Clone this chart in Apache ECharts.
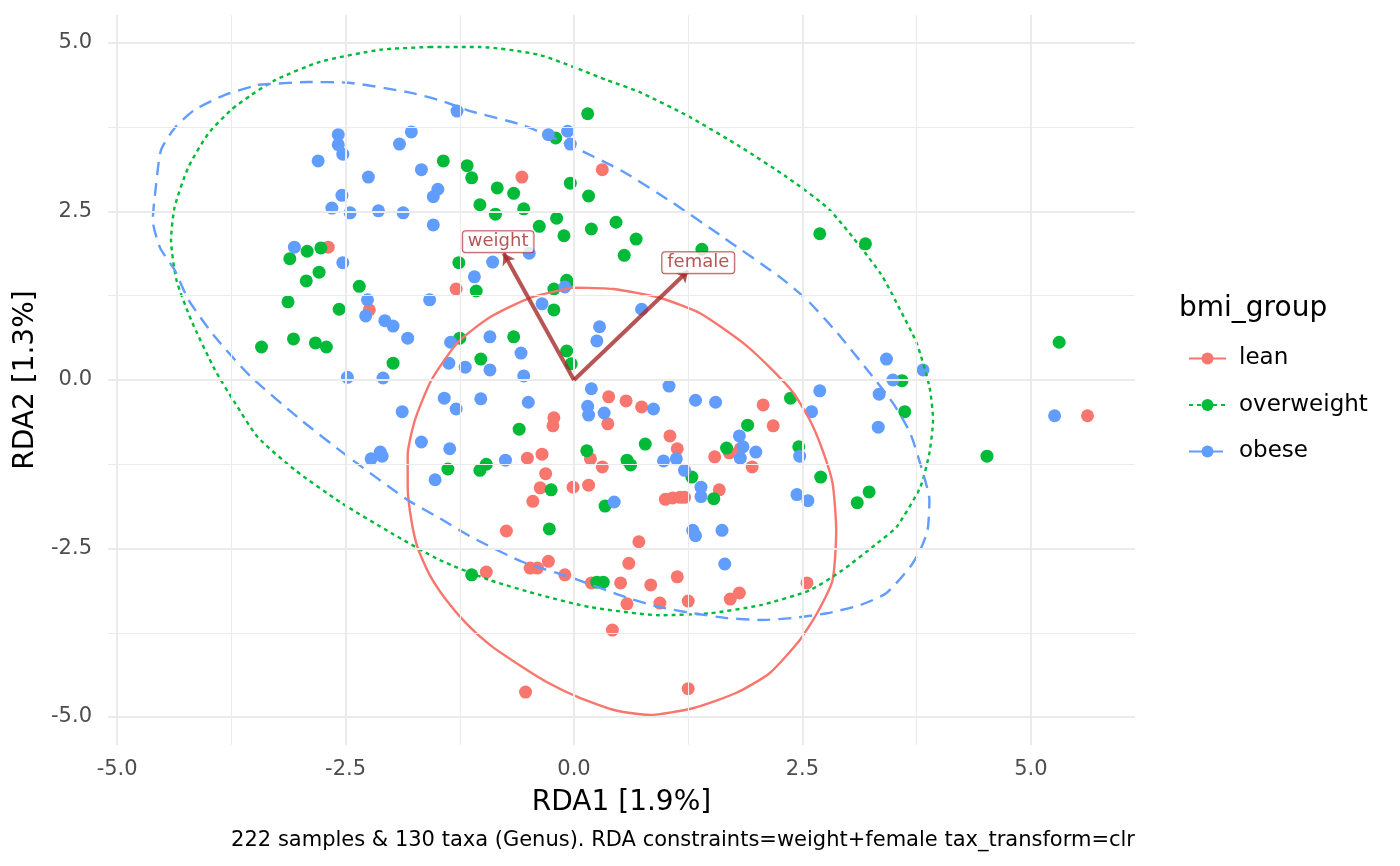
<!DOCTYPE html>
<html>
<head>
<meta charset="utf-8">
<title>RDA bmi_group</title>
<script src="https://cdn.jsdelivr.net/npm/echarts@6.0.0/dist/echarts.min.js"></script>
<style>
    html, body { margin:0; padding:0; background:#fff; }
    #chart { width:1400px; height:866px; }
</style>
</head>
<body>
<div id="chart"></div>
<script>

/* 刻度 */
const tickValues = [-5, -2.5, 0, 2.5, 5];

const minorValues = [-3.75, -1.25, 1.25, 3.75];

/* lean */
const leanX = [
    -0.57, 0.31, -2.69, -2.24, -1.29, 0.38, 0.57, 0.74, 0.37, -0.22,
    -0.23, 1.05, -0.51, -0.35, -0.31, 0.18, 0.31, -0.37, -0.01, 0.16,
    2.07, 2.18, 1.13, 1.82, 1.70, 1.54, 1.95, 1.59, -0.45, 1.00,
    1.08, 1.16, 1.21, -0.74, 0.71, -0.96, -0.48, -0.40, -0.28, -0.10,
    0.19, 0.51, 0.60, 0.58, 0.84, 0.94, 0.42, -0.53, 1.13, 1.25,
    1.71, 1.81, 2.55, 1.25, 5.62
];
const leanY = [
    3.01, 3.12, 1.97, 1.04, 1.35, -0.25, -0.31, -0.40, -0.65, -0.56,
    -0.68, -0.83, -1.16, -1.10, -1.39, -1.17, -1.29, -1.60, -1.59, -1.56,
    -0.37, -0.68, -1.02, -1.02, -1.08, -1.14, -1.29, -1.63, -1.80, -1.77,
    -1.75, -1.74, -1.74, -2.24, -2.40, -2.85, -2.79, -2.79, -2.69, -2.89,
    -3.01, -3.01, -2.72, -3.32, -3.04, -3.31, -3.71, -4.63, -2.92, -3.28,
    -3.25, -3.16, -3.01, -4.58, -0.53
];

/* overweight */
const overweightX = [
    0.15, -0.20, -1.43, -1.17, -1.12, -0.04, -0.84, -0.66, 0.16, -2.92,
    -2.77, -3.11, -2.79, -2.93, -1.26, -1.03, -0.86, -0.55, -0.38, -0.19,
    -0.11, 0.19, 0.46, 0.68, 0.55, 1.40, -0.08, -3.13, -2.35, -2.57,
    -1.25, -3.42, -3.07, -2.83, -2.71, -1.98, -1.38, -1.07, -0.07, -0.22,
    -0.22, -0.66, -1.02, -0.08, -0.03, -0.60, 0.78, -1.03, -0.96, 0.14,
    0.58, 0.62, -0.25, 3.59, 3.62, 2.37, 1.90, 1.67, 1.29, 2.46,
    2.70, 3.23, 0.34, -0.27, -1.12, 0.25, 0.32, 1.53, 3.10, 5.31,
    4.52, 3.19, 2.69
];
const overweightY = [
    3.95, 3.59, 3.25, 3.18, 3.00, 2.92, 2.85, 2.77, 2.73, 1.91,
    1.96, 1.80, 1.60, 1.47, 1.74, 2.60, 2.46, 2.54, 2.28, 2.40,
    2.14, 2.24, 2.34, 2.09, 1.85, 1.94, 1.48, 1.16, 1.39, 1.05,
    0.62, 0.49, 0.61, 0.55, 0.49, 0.25, -1.32, 1.32, 1.45, 1.35,
    1.04, 0.64, 0.31, 0.43, 0.24, -0.73, -0.95, -1.34, -1.25, -1.05,
    -1.19, -1.26, -1.63, -0.01, -0.47, -0.27, -0.67, -1.01, -1.44, -0.99,
    -1.44, -1.66, -1.87, -2.21, -2.89, -3.00, -3.00, -1.76, -1.82, 0.56,
    -1.13, 2.02, 2.17
];

/* obese */
const obeseX = [
    -1.28, -1.78, -2.58, -0.28, -0.07, -0.04, -2.58, -2.53, -1.91, -2.80,
    -1.67, -2.25, -1.49, -2.54, -1.54, -2.65, -2.45, -2.14, -1.87, -1.54,
    -3.06, -2.53, -0.89, -1.09, -0.49, -2.26, -2.28, -1.58, -2.07, -1.98,
    -1.82, -1.35, -1.37, -2.48, -2.09, -1.42, -1.29, -1.88, -1.67, -1.36,
    -2.22, -2.12, -2.10, -1.52, -0.10, -0.35, 0.74, 0.28, 0.25, -0.92,
    -1.19, -0.92, -0.58, -0.55, -1.02, -0.50, 0.19, 0.87, 0.15, 0.16,
    0.33, 1.04, -0.75, 0.98, 3.42, 3.49, 3.34, 3.33, 1.33, 1.55,
    2.69, 2.60, 1.81, 1.85, 1.82, 1.99, 1.12, 1.21, 1.39, 2.47,
    2.44, 0.44, 1.39, 2.56, 1.30, 1.33, 1.62, 1.65, 3.82, 5.26
];
const obeseY = [
    3.99, 3.68, 3.64, 3.64, 3.69, 3.50, 3.49, 3.35, 3.50, 3.25,
    3.12, 3.01, 2.83, 2.74, 2.72, 2.55, 2.48, 2.51, 2.48, 2.30,
    1.97, 1.74, 1.75, 1.53, 1.88, 1.19, 0.95, 1.19, 0.88, 0.80,
    0.62, 0.56, 0.25, 0.04, 0.03, -0.27, -0.43, -0.47, -0.92, -1.02,
    -1.17, -1.07, -1.13, -1.48, 1.38, 1.13, 1.05, 0.79, 0.58, 0.64,
    0.19, 0.15, 0.40, 0.06, -0.28, -0.33, -0.13, -0.43, -0.39, -0.52,
    -0.49, -0.09, -1.19, -1.20, 0.31, 0.00, -0.21, -0.70, -0.30, -0.33,
    -0.16, -0.47, -0.83, -0.99, -1.16, -1.07, -1.17, -1.34, -1.59, -1.13,
    -1.70, -1.81, -1.73, -1.79, -2.23, -2.31, -2.23, -2.73, 0.15, -0.53
];

/* 椭圆轮廓 (读图顶点) */
const leanEllipseX = [
    -0.01, 0.43, 0.94, 1.38, 1.85, 2.14, 2.40, 2.58, 2.72, 2.83,
    2.87, 2.83, 2.66, 2.47, 2.14, 1.78, 1.30, 0.83, 0.45, 0.07,
    -0.30, -0.62, -0.92, -1.18, -1.40, -1.58, -1.71, -1.78, -1.82, -1.82,
    -1.74, -1.56, -1.27, -0.92, -0.48
];
const leanEllipseY = [
    1.37, 1.35, 1.22, 0.99, 0.55, 0.19, -0.19, -0.59, -1.04, -1.53,
    -2.23, -2.97, -3.46, -3.86, -4.35, -4.64, -4.87, -4.97, -4.90, -4.72,
    -4.48, -4.21, -3.93, -3.61, -3.26, -2.89, -2.49, -2.08, -1.59, -1.11,
    -0.59, 0.00, 0.56, 0.93, 1.22
];

const overweightEllipseX = [
    -1.58, -1.03, -0.37, 0.36, 0.72, 1.27, 1.82, 2.33, 2.80, 3.35,
    3.57, 3.75, 3.89, 3.93, 3.89, 3.79, 3.53, 3.32, 2.94, 2.58,
    2.04, 1.49, 0.94, 0.18, -0.37, -0.92, -1.47, -2.00, -2.55, -3.05,
    -3.46, -3.71, -3.93, -4.19, -4.35, -4.41, -4.37, -4.22, -4.00, -3.75,
    -3.53, -3.27, -2.78, -2.12
];
const overweightEllipseY = [
    4.94, 4.94, 4.82, 4.45, 4.27, 3.90, 3.46, 3.01, 2.52, 1.59,
    1.04, 0.55, -0.10, -0.59, -1.08, -1.59, -2.18, -2.42, -2.82, -3.12,
    -3.34, -3.46, -3.49, -3.37, -3.19, -2.97, -2.67, -2.27, -1.82, -1.34,
    -0.85, -0.34, 0.15, 0.89, 1.48, 2.08, 2.57, 3.16, 3.66, 4.01,
    4.23, 4.45, 4.72, 4.90
];

const obeseEllipseX = [
    -3.46, -2.91, -2.47, -1.82, -1.47, -1.11, -0.56, -0.01, 0.54, 1.08,
    1.63, 2.25, 2.55, 2.88, 3.21, 3.49, 3.68, 3.82, 3.89, 3.87,
    3.79, 3.68, 3.42, 3.13, 2.77, 2.40, 2.04, 1.67, 1.30, 0.94,
    0.58, -0.01, -0.56, -1.11, -1.47, -1.82, -2.47, -2.99, -3.53, -3.93,
    -4.22, -4.37, -4.53, -4.61, -4.58, -4.52, -4.37, -4.15, -3.82
];
const obeseEllipseY = [
    4.38, 4.42, 4.41, 4.27, 4.15, 3.98, 3.78, 3.46, 3.09, 2.63,
    2.12, 1.53, 1.19, 0.70, 0.15, -0.34, -0.79, -1.38, -1.78, -2.23,
    -2.52, -2.77, -3.16, -3.34, -3.46, -3.53, -3.56, -3.53, -3.46, -3.37,
    -3.23, -2.94, -2.70, -2.34, -2.05, -1.78, -1.14, -0.59, 0.04, 0.64,
    1.19, 1.63, 1.96, 2.37, 2.82, 3.41, 3.74, 4.01, 4.23
];

/* 约束变量箭头 */
const constraintNames = ["weight", "female"];

const arrowX = [-0.77, 1.25];
const arrowY = [1.88, 1.62];

const labelX = [-0.83, 1.36];
const labelY = [2.05, 1.74];

/* 分组 */
const groupNames = ["lean", "overweight", "obese"];

const groupColors = ["#F8766D", "#00BA38", "#619CFF"];

const groupLineTypes = ["solid", [4, 4], [13, 8]];

const groupPoints = [
    [leanX, leanY],
    [overweightX, overweightY],
    [obeseX, obeseY]
];

const groupEllipses = [
    [leanEllipseX, leanEllipseY],
    [overweightEllipseX, overweightEllipseY],
    [obeseEllipseX, obeseEllipseY]
];

const FONT = "DejaVu Sans";

/* x,y 数组合并 */
function toPoints(xs, ys){

    return xs.map((x, i) => [x, ys[i]]);
}

/* 网格线 */
function gridLines(){

    const lines = [];

    tickValues.forEach(v => {

        lines.push({ xAxis: v, lineStyle: { width: 2 } });

        lines.push({ yAxis: v, lineStyle: { width: 2 } });
    });

    minorValues.forEach(v => {

        lines.push({ xAxis: v, lineStyle: { width: 1 } });

        lines.push({ yAxis: v, lineStyle: { width: 1 } });
    });

    return lines;
}

/* 椭圆 (先放, 图例用线条图标) */
const ellipseSeries = groupNames.map((name, i) => {

    const pts = toPoints(groupEllipses[i][0], groupEllipses[i][1]);

    pts.push(pts[0]);

    return {
        name: name,
        type: "line",
        data: pts,
        smooth: 0.2,
        symbol: "circle",
        showSymbol: false,
        silent: true,
        z: 4,
        itemStyle: { color: groupColors[i] },
        lineStyle: {
            color: groupColors[i],
            width: 2.4,
            type: groupLineTypes[i]
        }
    };
});

/* 散点 */
const pointSeries = groupNames.map((name, i) => {

    return {
        name: name,
        type: "scatter",
        data: toPoints(groupPoints[i][0], groupPoints[i][1]),
        symbolSize: 13,
        z: 3,
        itemStyle: { color: groupColors[i], opacity: 1 }
    };
});

const chart = echarts.init(document.getElementById("chart"));

chart.setOption({

    animation: false,

    textStyle: { fontFamily: FONT },

    title: [
        {
            text: "bmi_group",
            left: 1174,
            top: 290,
            textStyle: {
                fontFamily: FONT,
                fontSize: 28,
                fontWeight: "normal",
                color: "#000"
            }
        },
        {
            text: "222 samples & 130 taxa (Genus). RDA constraints=weight+female tax_transform=clr",
            right: 265,
            bottom: 15,
            padding: 0,
            textStyle: {
                fontFamily: FONT,
                fontSize: 21,
                fontWeight: "normal",
                color: "#000"
            }
        }
    ],

    legend: {
        data: groupNames,
        orient: "vertical",
        left: 1183,
        top: 342,
        itemWidth: 37,
        itemHeight: 15,
        itemGap: 23.5,
        textStyle: {
            fontFamily: FONT,
            fontSize: 23,
            color: "#000",
            padding: [0, 0, 0, 8]
        }
    },

    grid: {
        left: 108,
        right: 265,
        top: 15,
        bottom: 121
    },

    xAxis: {
        type: "value",
        min: -5.1,
        max: 6.14,
        name: "RDA1 [1.9%]",
        nameLocation: "middle",
        nameGap: 44,
        nameTextStyle: { fontFamily: FONT, fontSize: 28, color: "#000" },
        axisLine: { show: false },
        axisTick: { show: false },
        splitLine: { show: false },
        axisLabel: {
            customValues: tickValues,
            formatter: v => v.toFixed(1),
            fontFamily: FONT,
            fontSize: 21,
            color: "#4D4D4D",
            margin: 14
        }
    },

    yAxis: {
        type: "value",
        min: -5.415,
        max: 5.415,
        name: "RDA2 [1.3%]",
        nameLocation: "middle",
        nameGap: 66,
        nameTextStyle: { fontFamily: FONT, fontSize: 28, color: "#000" },
        axisLine: { show: false },
        axisTick: { show: false },
        splitLine: { show: false },
        axisLabel: {
            customValues: tickValues,
            formatter: v => v.toFixed(1),
            fontFamily: FONT,
            fontSize: 21,
            color: "#4D4D4D",
            margin: 16
        }
    },

    series: [

        ...ellipseSeries,

        /* 网格 */
        {
            name: "grid",
            type: "line",
            data: [],
            z: 0,
            markLine: {
                silent: true,
                symbol: ["none", "none"],
                label: { show: false },
                lineStyle: { color: "#EBEBEB", type: "solid" },
                emphasis: { disabled: true },
                data: gridLines()
            }
        },

        ...pointSeries,

        /* 箭头 */
        {
            name: "arrows",
            type: "lines",
            coordinateSystem: "cartesian2d",
            z: 5,
            silent: true,
            symbol: ["none", "arrow"],
            symbolSize: 11,
            lineStyle: { color: "#A52A2A", opacity: 0.8, width: 4 },
            data: constraintNames.map((n, i) => {

                return { coords: [[0, 0], [arrowX[i], arrowY[i]]] };
            })
        },

        /* 箭头标签 */
        {
            name: "arrowLabels",
            type: "scatter",
            z: 6,
            silent: true,
            symbolSize: 0,
            data: constraintNames.map((n, i) => {

                return { name: n, value: [labelX[i], labelY[i]] };
            }),
            label: {
                show: true,
                position: "inside",
                formatter: p => p.name,
                fontFamily: FONT,
                fontSize: 18,
                color: "#A52A2A",
                backgroundColor: "#fff",
                borderColor: "#A52A2A",
                borderWidth: 1,
                borderRadius: 3,
                padding: [2, 5, 1, 5]
            }
        }
    ]
});

</script>
</body>
</html>
